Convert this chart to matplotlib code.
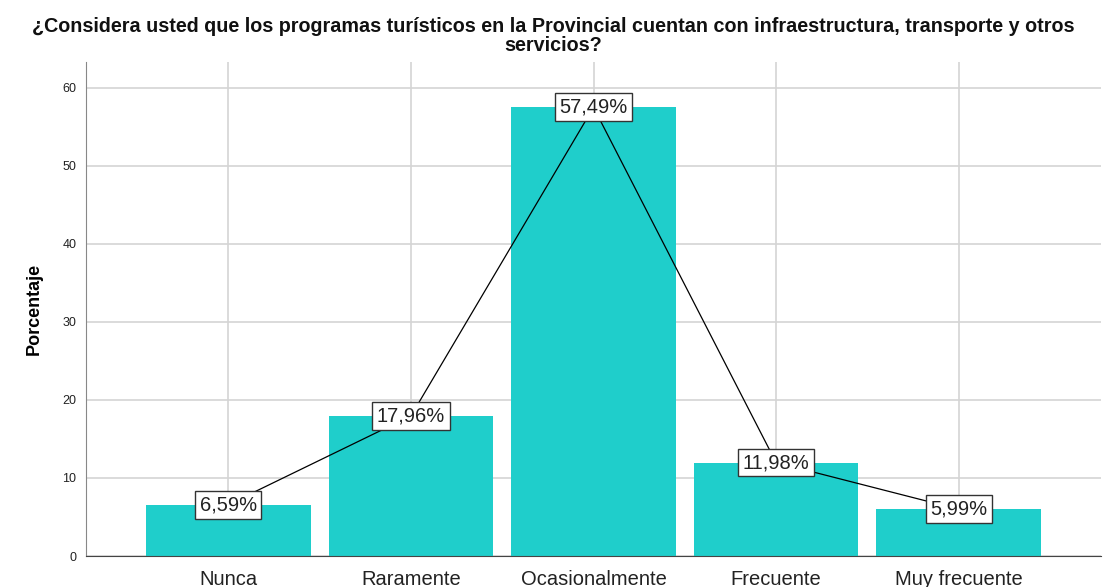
import matplotlib
matplotlib.use("Agg")
import matplotlib.pyplot as plt
import numpy as np

categories = ["Nunca", "Raramente", "Ocasionalmente", "Frecuente", "Muy frecuente"]
percentages = [6.59, 17.96, 57.49, 11.98, 5.99]
yticks = [0, 10, 20, 30, 40, 50, 60]

title_lines = ["¿Considera usted que los programas turísticos en la Provincial cuentan con "
               "infraestructura, transporte y otros",
               "servicios?"]

plt.rcParams["font.family"] = ["Liberation Sans", "DejaVu Sans"]

fig = plt.figure(figsize=(11.06, 5.87), dpi=100)
ax = fig.add_axes([0.0778, 0.0528, 0.9177, 0.8416])

x = np.arange(len(categories))
ax.bar(x, percentages, width=0.9, color="#1fcecb", zorder=2)
ax.plot(x, percentages, color="black", linewidth=0.9, zorder=3)

for xi, v in zip(x, percentages):
    ax.text(xi, v, f"{v:.2f}%".replace(".", ","), ha="center", va="center",
            fontsize=14.5, color="#222222", zorder=4,
            bbox=dict(boxstyle="square,pad=0.22", facecolor="white",
                      edgecolor="#333333", linewidth=1))

ax.set_xlim(-0.78, 4.78)
ax.set_ylim(0, 63.3)
ax.set_xticks(x, categories, fontsize=14.5, color="#222222")
ax.set_yticks(yticks, [str(t) for t in yticks], fontsize=9, color="#222222")
ax.tick_params(axis="both", length=0)
ax.tick_params(axis="x", pad=10)
ax.tick_params(axis="y", pad=7)

ax.grid(True, color="#d4d4d4", linewidth=1.2, zorder=0)
ax.set_axisbelow(True)

for side in ["top", "right"]:
    ax.spines[side].set_visible(False)
ax.spines["left"].set_color("#888888")
ax.spines["bottom"].set_color("#444444")

ax.set_ylabel("Porcentaje", fontsize=13, fontweight="bold", labelpad=14)
for line, yy in zip(title_lines, [0.955, 0.922]):
    fig.text(0.5, yy, line, ha="center", va="center", fontsize=14.2,
             fontweight="bold", color="#111111")

fig.savefig("out.png", dpi=100)
